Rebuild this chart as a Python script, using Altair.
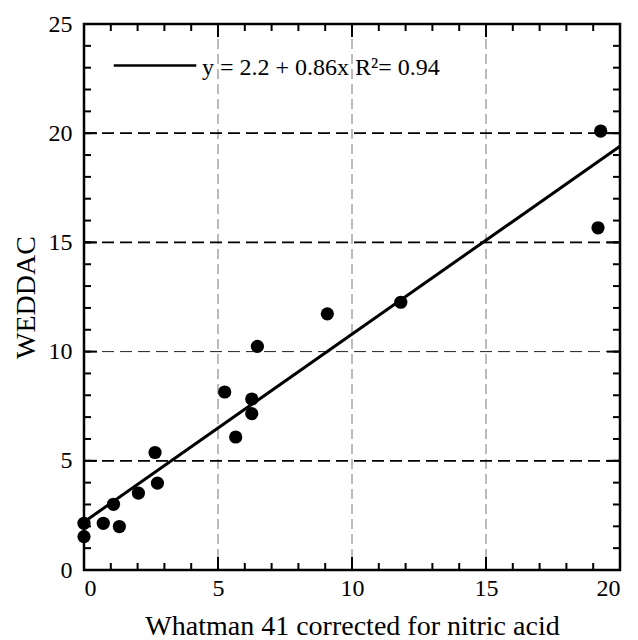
import altair as alt
import pandas as pd

# measured data
x_vals = [0.0, 0.0, 0.72, 1.10, 1.32, 2.03, 2.65, 2.74, 5.25, 5.66, 6.26, 6.26, 6.47, 9.08, 11.82, 19.18, 19.28]
y_vals = [2.14, 1.53, 2.14, 3.01, 1.99, 3.52, 5.38, 3.98, 8.15, 6.09, 7.83, 7.16, 10.24, 11.73, 12.26, 15.67, 20.10]

intercept = 2.2
slope = 0.86
fit_x = [0, 20]

x_ticks = list(range(0, 21, 5))
y_ticks = list(range(0, 26, 5))
x_minor = list(range(0, 21))
y_minor = list(range(0, 26))
v_grid = [5, 10, 15]
h_grid_thick = [5, 15, 20]
h_grid_thin = [10]

legend_text = "y = 2.2 + 0.86x R\u00b2= 0.94"

FONT = "Liberation Serif"
W, H = 536, 546

xs = alt.Scale(domain=[0, 20], nice=False)
ys = alt.Scale(domain=[0, 25], nice=False)

pts = pd.DataFrame({"x": x_vals, "y": y_vals})
fit = pd.DataFrame({"x": fit_x, "y": [intercept + slope * v for v in fit_x]})

base_x = alt.X("x:Q", scale=xs, title="Whatman 41 corrected for nitric acid",
               axis=alt.Axis(values=x_ticks, tickSize=0, domain=False, grid=False,
                             labelPadding=6, titlePadding=12, labelFontSize=24,
                             titleFontSize=28, labelFont=FONT, titleFont=FONT,
                             labelColor="black", titleColor="black", titleFontWeight="normal"))
base_y = alt.Y("y:Q", scale=ys, title="WEDDAC",
               axis=alt.Axis(values=y_ticks, tickSize=0, domain=False, grid=False,
                             labelPadding=12, titlePadding=8, labelFontSize=24,
                             titleFontSize=28, labelFont=FONT, titleFont=FONT,
                             labelColor="black", titleColor="black", titleFontWeight="normal"))

# grid
vg = alt.Chart(pd.DataFrame({"x": v_grid})).mark_rule(
    color="#777777", strokeWidth=1, strokeDash=[10, 5]).encode(
    x=alt.X("x:Q", scale=xs), y=alt.value(0), y2=alt.value(H))
hg = alt.Chart(pd.DataFrame({"y": h_grid_thick})).mark_rule(
    color="black", strokeWidth=1.8, strokeDash=[12, 6]).encode(
    y=alt.Y("y:Q", scale=ys), x=alt.value(0), x2=alt.value(W))
hg2 = alt.Chart(pd.DataFrame({"y": h_grid_thin})).mark_rule(
    color="#222222", strokeWidth=1, strokeDash=[12, 6]).encode(
    y=alt.Y("y:Q", scale=ys), x=alt.value(0), x2=alt.value(W))

# inward ticks on all four sides
def ticks_x(vals, p0, p1):
    return alt.Chart(pd.DataFrame({"x": vals})).mark_rule(color="black", strokeWidth=2).encode(
        x=alt.X("x:Q", scale=xs), y=alt.value(p0), y2=alt.value(p1))

def ticks_y(vals, p0, p1):
    return alt.Chart(pd.DataFrame({"y": vals})).mark_rule(color="black", strokeWidth=2).encode(
        y=alt.Y("y:Q", scale=ys), x=alt.value(p0), x2=alt.value(p1))

MINOR, MAJOR = 7, 13
tick_layers = [
    ticks_x(x_minor, H, H - MINOR), ticks_x(x_ticks, H, H - MAJOR),
    ticks_x(x_minor, 0, MINOR), ticks_x(x_ticks, 0, MAJOR),
    ticks_y(y_minor, 0, MINOR), ticks_y(y_ticks, 0, MAJOR),
    ticks_y(y_minor, W, W - MINOR), ticks_y(y_ticks, W, W - MAJOR),
]

line = alt.Chart(fit).mark_line(color="black", strokeWidth=3).encode(x=base_x, y=base_y)
points = alt.Chart(pts).mark_circle(color="black", opacity=1, size=175).encode(
    x=alt.X("x:Q", scale=xs), y=alt.Y("y:Q", scale=ys))

# legend
leg_line = alt.Chart(pd.DataFrame({"x": [1.11], "x2": [4.19], "y": [23.1]})).mark_rule(
    color="black", strokeWidth=2.4).encode(
    x=alt.X("x:Q", scale=xs), x2="x2:Q", y=alt.Y("y:Q", scale=ys))
leg_text = alt.Chart(pd.DataFrame({"x": [4.4], "y": [23.0], "t": [legend_text]})).mark_text(
    align="left", baseline="middle", font=FONT, fontSize=24, color="black").encode(
    x=alt.X("x:Q", scale=xs), y=alt.Y("y:Q", scale=ys), text="t:N")

chart = alt.layer(vg, hg, hg2, *tick_layers, line, points, leg_line, leg_text).properties(
    width=W, height=H,
    padding={"left": 4, "top": 4, "right": 2, "bottom": 0},
).configure_view(stroke="black", strokeWidth=2.5)

chart.save("out.html", embed_options={"renderer": "svg", "actions": False})
